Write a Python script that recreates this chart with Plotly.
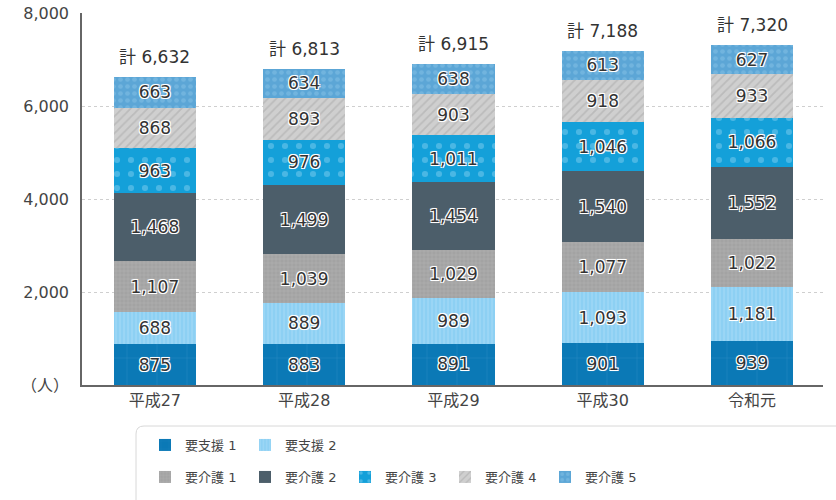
import plotly.graph_objects as go

years = ["平成27", "平成28", "平成29", "平成30", "令和元"]
shien1 = [875, 883, 891, 901, 939]
shien2 = [688, 889, 989, 1093, 1181]
kaigo1 = [1107, 1039, 1029, 1077, 1022]
kaigo2 = [1468, 1499, 1454, 1540, 1552]
kaigo3 = [963, 976, 1011, 1046, 1066]
kaigo4 = [868, 893, 903, 918, 933]
kaigo5 = [663, 634, 638, 613, 627]
ytickvals = [0, 2000, 4000, 6000, 8000]
yticktext = ["（人）", "2,000", "4,000", "6,000", "8,000"]

# name, values, color, pattern shape, pattern fg, pattern size, solidity, legend screen x, legend screen y
series = [
    ("要支援 1", shien1, "#0b79b6", "+", "#3a95c8", 30, 0.04, 145, 445),
    ("要支援 2", shien2, "#8dd0f3", "|", "#b9e3f8", 4, 0.3, 245, 445),
    ("要介護 1", kaigo1, "#a3a3a3", "+", "#bdbdbd", 4, 0.3, 145, 477),
    ("要介護 2", kaigo2, "#4c5e6a", "", "#4c5e6a", 8, 0.2, 245, 477),
    ("要介護 3", kaigo3, "#14a0d9", ".", "#7fcdf0", 14, 0.15, 345, 477),
    ("要介護 4", kaigo4, "#cfcfcf", "/", "#a8a8a8", 6, 0.3, 445, 477),
    ("要介護 5", kaigo5, "#5ca6d6", ".", "#86c1e6", 7, 0.35, 545, 477),
]

shadow = "-1px -1px 0 #fff, 1px -1px 0 #fff, -1px 1px 0 #fff, 1px 1px 0 #fff, 0 0 2px #fff"
fnt = "DejaVu Sans, Noto Sans CJK JP, sans-serif"

W, H = 836, 500
# screen-space layout of the reference
SL, SR, ST, SB = 82, 823, 14, 385
YMAX = 8000
YTOP = 8012
ML = SL
MT = round(ST - (YTOP - YMAX) * (SB - ST) / YMAX)
MR = W - SR
MB = 5
pw = W - ML - MR
ph = H - MT - MB
def px(x):
    return (x - ML) / pw
def py(y):
    return (H - MB - y) / ph

fig = go.Figure()
legends = {}
for i, (name, vals, col, shape, fg, size, sol, lx, ly) in enumerate(series):
    lid = "legend" if i == 0 else "legend%d" % (i + 1)
    fig.add_trace(go.Bar(
        name=name, x=years, y=vals, width=0.55,
        marker=dict(color=col, line=dict(width=0),
                    pattern=dict(shape=shape, fgcolor=fg, bgcolor=col, size=size, solidity=sol, fillmode="overlay")),
        texttemplate="%{y:,}", textposition="inside", insidetextanchor="middle",
        textangle=0, constraintext="none",
        textfont=dict(size=17, color="#333333", family=fnt, shadow=shadow),
        legend=lid, hoverinfo="skip",
    ))
    legends[lid] = dict(x=px(lx), y=py(ly), xanchor="left", yanchor="middle",
                        font=dict(size=13, color="#444444"), bgcolor="rgba(0,0,0,0)",
                        borderwidth=0)

totals = [sum(v) for v in zip(shien1, shien2, kaigo1, kaigo2, kaigo3, kaigo4, kaigo5)]
for x, t in zip(years, totals):
    fig.add_annotation(x=x, y=t, text="計 {:,}".format(t), showarrow=False,
                       yanchor="bottom", yshift=8, font=dict(size=17, color="#333333", family=fnt))

# legend frame with rounded top-left corner
x0, x1, y0, y1 = px(136), px(845), py(510), py(426)
rx = 8 / pw
ry = 8 / ph
path = (f"M {x0},{y0} L {x0},{y1 - ry} Q {x0},{y1} {x0 + rx},{y1} "
        f"L {x1},{y1}")
fig.add_shape(type="path", xref="paper", yref="paper", path=path,
              line=dict(color="#d8d8d8", width=1), layer="below")

fig.update_layout(
    width=W, height=H, barmode="stack",
    margin=dict(l=ML, r=MR, t=MT, b=MB, autoexpand=False),
    plot_bgcolor="white", paper_bgcolor="white",
    font=dict(family=fnt, color="#444444", size=15),
    xaxis=dict(range=[-0.488, 4.475], showline=True, linecolor="#666666", linewidth=1.5,
               ticks="", tickfont=dict(size=16, color="#444444"), showgrid=False, fixedrange=True,
               anchor="y"),
    yaxis=dict(range=[0, YTOP], domain=[py(SB), 1], tickvals=ytickvals, ticktext=yticktext,
               showline=True, linecolor="#666666", linewidth=1.5, showgrid=True, gridcolor="#cfcfcf",
               griddash="dot", gridwidth=1, ticks="", zeroline=False, ticklabelstandoff=8,
               ticklabeloverflow="allow", tickfont=dict(size=16, color="#444444")),
    showlegend=True,
    **legends,
)

fig.write_html("out.html", config={"displayModeBar": False},
               post_script="document.body.style.margin='0';document.body.style.overflow='hidden';")
